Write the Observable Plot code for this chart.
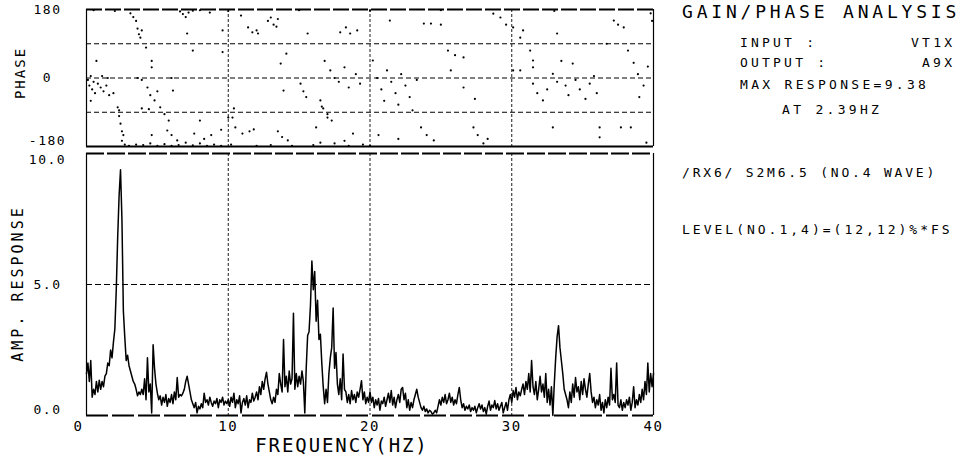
<!DOCTYPE html>
<html><head><meta charset="utf-8">
<script src="https://cdn.jsdelivr.net/npm/d3@7"></script>
<script src="https://cdn.jsdelivr.net/npm/@observablehq/plot@0.6"></script>
<style>
body{margin:0;background:#fff;}
#wrap{position:relative;width:964px;height:462px;overflow:hidden;font-family:"DejaVu Sans Mono",monospace;color:#000;background:#fff;}
.t{position:absolute;white-space:pre;line-height:1;}
#phase,#amp{position:absolute;left:0;}
#phase{top:0;} #amp{top:148px;}
</style></head><body>
<div id="wrap">
  <div id="phase"></div>
  <div id="amp"></div>
</div>
<script>
// ---- data ----
const freqTicks = [0, 10, 20, 30, 40];
const freqGrid = [10, 20, 30];
const phaseTicks = [180, 0, -180];
const phaseGrid = [90, 0, -90];
const ampTicks = [10, 5, 0];
const ampGrid = [5];

const ampStart = 0, ampStep = 0.1; // Hz, sampling grid of the spectrum
const ampValues = [
 1.6,2.0,1.3,2.1,0.7,1.0,0.8,1.3,0.9,1.35,
 1.0,1.3,1.1,1.5,1.6,2.0,1.9,2.5,2.2,2.8,
 3.3,4.8,6.8,8.4,9.38,7.5,4.0,3.0,2.1,2.3,
 1.9,1.7,1.5,1.3,1.2,1.0,0.75,0.9,0.8,1.0,
 0.8,1.4,0.6,2.2,0.9,1.2,0.1,2.7,1.8,1.2,
 0.85,0.6,0.75,0.4,0.7,0.5,0.8,0.35,0.65,0.5,
 0.8,0.45,0.9,0.6,1.45,0.7,0.8,0.75,0.85,1.0,
 1.3,1.5,1.2,0.9,0.6,0.45,0.3,0.5,0.1,0.35,
 0.25,0.45,0.3,0.85,0.5,0.6,0.4,0.7,0.5,0.35,
 0.55,0.45,0.65,0.3,0.6,0.5,0.7,0.4,0.55,0.45,
 0.6,0.35,0.7,0.5,0.85,0.3,0.6,0.45,0.75,0.1,
 0.5,0.65,0.4,0.75,0.3,0.6,0.5,0.85,0.55,0.7,
 0.9,0.6,1.1,0.8,1.3,1.0,1.4,1.65,1.2,0.9,
 0.6,0.45,0.7,0.5,1.0,0.8,1.6,1.2,0.9,2.9,
 1.1,1.5,0.9,1.7,1.2,1.4,3.9,1.0,1.6,1.1,
 1.5,1.2,1.7,1.3,0.1,1.8,3.05,3.2,4.2,5.9,
 4.8,5.5,3.6,4.4,2.9,3.1,2.0,1.1,0.45,1.0,
 0.5,1.6,2.2,2.6,4.1,1.8,2.4,1.2,0.8,1.4,
 0.6,2.35,1.0,0.9,0.5,0.8,0.45,0.95,0.6,0.8,
 0.5,0.9,0.7,1.0,1.33,0.6,0.9,0.45,0.7,0.5,
 0.9,0.5,0.7,0.3,0.6,0.4,0.65,0.2,0.55,0.45,
 0.7,0.35,0.6,0.85,0.5,0.95,0.4,0.7,0.3,0.6,
 0.8,0.5,1.0,1.07,0.6,0.85,0.3,0.6,0.2,0.5,
 0.3,0.6,0.8,1.0,0.7,0.5,0.3,0.2,0.35,0.15,
 0.25,0.1,0.2,0.15,0.05,0.1,0.2,0.1,0.35,0.6,
 0.4,0.7,0.5,0.8,0.45,0.6,0.85,0.5,0.7,0.4,
 0.6,0.45,0.8,1.07,0.6,0.3,0.45,0.2,0.35,0.25,
 0.4,0.15,0.3,0.2,0.35,0.1,0.3,0.45,0.25,0.4,
 0.15,0.3,0.05,0.35,0.55,0.2,0.4,0.3,0.57,0.25,
 0.45,0.2,0.35,0.5,0.1,0.3,0.5,0.2,0.6,0.8,
 0.5,0.95,0.7,1.07,0.6,0.9,0.75,1.0,1.2,0.8,
 1.3,1.0,1.6,0.9,2.1,1.1,0.8,1.3,0.6,1.0,
 1.5,0.9,1.2,0.7,1.6,0.5,1.0,0.4,1.1,0.0,
 1.2,2.2,3.0,3.43,2.6,2.1,1.6,1.0,0.8,0.6,
 0.3,0.9,0.5,1.2,0.7,1.45,0.9,1.1,0.6,1.3,
 0.8,1.4,1.0,0.7,1.2,1.6,0.9,0.5,0.7,0.3,
 0.6,0.4,0.8,0.2,0.5,0.1,0.6,0.3,0.7,0.4,
 1.8,0.6,0.8,0.5,2.0,0.4,0.3,0.6,0.2,0.5,
 0.3,0.6,0.4,0.7,0.2,0.5,1.1,0.3,0.6,0.4,
 0.8,0.5,1.0,0.6,1.3,0.8,2.0,0.9,1.6,1.1,
 1.6
];

const phaseFreq = [
 0.1,0.2,0.3,0.4,0.5,0.6,0.8,1.0,1.1,1.2,1.4,1.5,1.6,0.7,0.3,1.9,
 2.2,2.3,2.4,2.5,2.6,2.5,2.7,2.3,
 3.0,3.5,4.0,4.5,5.0,5.5,6.0,6.5,7.0,7.5,8.0,8.5,9.0,
 3.1,3.3,3.5,3.6,3.7,3.8,3.9,4.2,4.6,4.6,3.6,3.9,4.3,4.5,4.8,5.0,3.9,4.4,4.6,5.2,5.5,5.8,6.0,6.1,5.7,6.0,6.4,
 6.6,6.8,7.0,7.2,7.1,7.5,7.5,8.7,8.0,7.6,8.3,8.8,9.5,9.6,9.6,
 10.0,10.4,10.3,10.5,11.0,11.5,11.8,10.9,11.4,11.7,12.0,12.1,12.8,13.0,13.2,13.4,13.5,13.7,14.1,13.9,13.5,13.8,14.2,15.1,15.3,15.5,15.6,16.2,16.5,16.7,17.0,
 16.6,17.3,17.0,16.8,17.2,17.5,17.8,18.2,18.5,19.0,19.3,17.9,18.3,18.6,19.1,18.8,18.2,16.5,
 20.2,20.5,20.8,21.0,21.2,21.5,21.8,22.0,22.2,22.5,22.8,23.0,23.3,21.4,20.6,22.0,23.8,24.3,25.0,25.5,26.0,26.6,25.7,23.6,24.0,24.5,26.6,27.4,27.3,27.6,28.0,28.3,28.7,29.2,29.6,30.1,30.1,30.6,30.6,30.8,31.3,31.5,31.5,31.5,31.8,32.2,32.5,32.9,33.2,33.5,33.2,33.8,34.0,34.3,34.5,34.8,35.2,35.5,35.8,36.0,32.9,36.2,36.2,36.7,37.2,37.5,37.9,37.7,38.4,38.2,38.6,38.9,39.0,39.3,39.6,39.8,39.9,39.5,
 9.5,10.2,12.0,13.0,14.5,16.0,17.5,18.5,19.5,20.0,
 0.5,2.0,8.0,10.0,15.0,20.0,25.0,33.0
];
const phaseDeg = [
 -5,-20,5,-30,-10,-40,-15,-25,5,-35,-20,0,-45,45,-60,-40,
 -77,-100,-120,-140,-150,-165,-175,-85,
 -178,-175,-176,-172,-178,-174,-178,-176,-170,-177,-172,-178,-175,
 170,160,150,130,115,106,125,80,45,28,0,-5,-25,-45,-59,-35,-80,-82,-150,-77,-95,-112,0,-33,-138,-150,-164,
 175,168,160,172,117,72,177,172,-112,-146,-160,-150,-136,125,68,
 -104,-80,-104,-130,-146,-140,-135,164,133,120,125,117,150,159,140,135,155,38,64,-33,-140,-155,-164,-15,-35,-50,117,-130,-59,-80,-104,
 -75,-112,-95,45,20,0,-10,28,-25,10,-15,120,133,117,125,-146,-165,-170,
 46,0,-30,-60,20,-10,-40,-70,10,-20,-50,-85,-5,151,-150,-160,143,143,140,72,60,54,20,-130,-150,-164,-25,-55,-130,-150,-172,-160,169,159,140,133,20,20,106,125,72,28,46,-15,-40,-59,-30,11,-10,45,117,-20,-45,38,-5,-30,-55,-15,5,-40,-130,-130,-156,90,151,140,133,-130,-130,72,40,10,-50,-20,30,170,150,-170,
 -178,-175,-178,-176,-178,-176,-172,-178,-175,-178,
 178,176,178,176,178,177,178,176
];

// ---- tables built from the arrays ----
const ampData = ampValues.map((a, i) => ({f: ampStart + i * ampStep, a}));
const phaseData = phaseFreq.map((f, i) => ({f, p: phaseDeg[i]}));

const FONT = '"DejaVu Sans Mono", monospace';
const baseStyle = {fontFamily: FONT, fontSize: "13px", background: "white", overflow: "visible", letterSpacing: "1.5px"};

const phasePlot = Plot.plot({
  width: 660, height: 150,
  marginLeft: 86, marginRight: 7, marginTop: 9, marginBottom: 4,
  x: {domain: [0, 40], axis: null},
  y: {domain: [-180, 180], label: null},
  style: baseStyle,
  marks: [
    Plot.ruleY(phaseGrid, {stroke: "black", strokeWidth: 1, strokeDasharray: "5,3"}),
    Plot.ruleX(freqGrid, {stroke: "black", strokeWidth: 0.9, strokeDasharray: "3,2"}),
    Plot.dot(phaseData, {x: "f", y: "p", r: 1.1, fill: "black", stroke: null}),
    Plot.ruleY([180], {stroke: "black", strokeWidth: 2.2, strokeDasharray: "16,3"}),
    Plot.ruleY([-180], {stroke: "black", strokeWidth: 2.2}),
    Plot.ruleX([0, 40], {stroke: "black", strokeWidth: 1.2}),
    Plot.axisY([phaseTicks[0], phaseTicks[1]], {tickSize: 0, tickPadding: 39, textAnchor: "middle", label: null, tickFormat: d => String(d)}),
    Plot.axisY([phaseTicks[2]], {tickSize: 0, tickPadding: 39, textAnchor: "middle", label: null, dy: -6, tickFormat: d => String(d)})
  ]
});
document.getElementById("phase").appendChild(phasePlot);

const ampPlot = Plot.plot({
  width: 660, height: 314,
  marginLeft: 86, marginRight: 7, marginTop: 5, marginBottom: 47,
  x: {domain: [0, 40], label: null},
  y: {domain: [0, 10], label: null},
  style: baseStyle,
  marks: [
    Plot.ruleY(ampGrid, {stroke: "black", strokeWidth: 1, strokeDasharray: "6,3"}),
    Plot.ruleX(freqGrid, {stroke: "black", strokeWidth: 0.9, strokeDasharray: "3,2"}),
    Plot.line(ampData, {x: "f", y: "a", stroke: "black", strokeWidth: 1.5}),
    Plot.ruleY([10], {stroke: "black", strokeWidth: 2, strokeDasharray: "18,3"}),
    Plot.ruleY([0], {stroke: "black", strokeWidth: 2, strokeDasharray: "22,4"}),
    Plot.ruleX([0, 40], {stroke: "black", strokeWidth: 1.2}),
    Plot.axisY([ampTicks[0]], {tickSize: 0, tickPadding: 39, textAnchor: "middle", label: null, dy: 6, tickFormat: d => d.toFixed(1)}),
    Plot.axisY([ampTicks[1]], {tickSize: 0, tickPadding: 39, textAnchor: "middle", label: null, tickFormat: d => d.toFixed(1)}),
    Plot.axisY([ampTicks[2]], {tickSize: 0, tickPadding: 39, textAnchor: "middle", label: null, dy: -6, tickFormat: d => d.toFixed(1)}),
    Plot.axisX([freqTicks[0]], {tickSize: 0, tickPadding: 6, label: null, dx: -8, fontSize: 14}),
    Plot.axisX(freqTicks.slice(1), {tickSize: 0, tickPadding: 6, label: null, fontSize: 14})
  ]
});
document.getElementById("amp").appendChild(ampPlot);

// ---- texts ----
const texts = [
  {s: "GAIN/PHASE ANALYSIS", x: 682, y: 13, fs: 18, ls: 3.8},
  {s: "INPUT :", x: 740, y: 43, fs: 13, ls: 3.2},
  {s: "VT1X", x: 952, y: 43, fs: 13, ls: 3.2, right: true},
  {s: "OUTPUT :", x: 740, y: 63, fs: 13, ls: 3.2},
  {s: "A9X", x: 952, y: 63, fs: 13, ls: 3.2, right: true},
  {s: "MAX RESPONSE=9.38", x: 740, y: 85, fs: 13, ls: 3.3},
  {s: "AT 2.39HZ", x: 782, y: 110, fs: 13, ls: 3.3},
  {s: "/RX6/ S2M6.5 (NO.4 WAVE)", x: 682, y: 173, fs: 13, ls: 2.8},
  {s: "LEVEL(NO.1,4)=(12,12)%*FS", x: 682, y: 230, fs: 13, ls: 3.0},
  {s: "FREQUENCY(HZ)", cx: 342, y: 446, fs: 19, ls: 1.9}
];
const wrap = document.getElementById("wrap");
for (const t of texts) {
  const d = document.createElement("div");
  d.className = "t";
  d.textContent = t.s;
  d.style.fontSize = t.fs + "px";
  d.style.letterSpacing = t.ls + "px";
  d.style.top = (t.y - t.fs * 0.55) + "px";
  wrap.appendChild(d);
  const w = d.getBoundingClientRect().width;
  if (t.right) d.style.left = (t.x - w + t.ls) + "px";
  else if (t.cx !== undefined) d.style.left = (t.cx - w / 2) + "px";
  else d.style.left = t.x + "px";
}
const vlabels = [
  {s: "PHASE", cx: 20, cy: 73, fs: 14, ls: 2},
  {s: "AMP. RESPONSE", cx: 18, cy: 283, fs: 15, ls: 3}
];
for (const t of vlabels) {
  const d = document.createElement("div");
  d.className = "t";
  d.textContent = t.s;
  d.style.fontSize = t.fs + "px";
  d.style.letterSpacing = t.ls + "px";
  wrap.appendChild(d);
  const r = d.getBoundingClientRect();
  d.style.left = (t.cx - r.width / 2) + "px";
  d.style.top = (t.cy - r.height / 2) + "px";
  d.style.transform = "rotate(-90deg)";
}
</script>
</body></html>
